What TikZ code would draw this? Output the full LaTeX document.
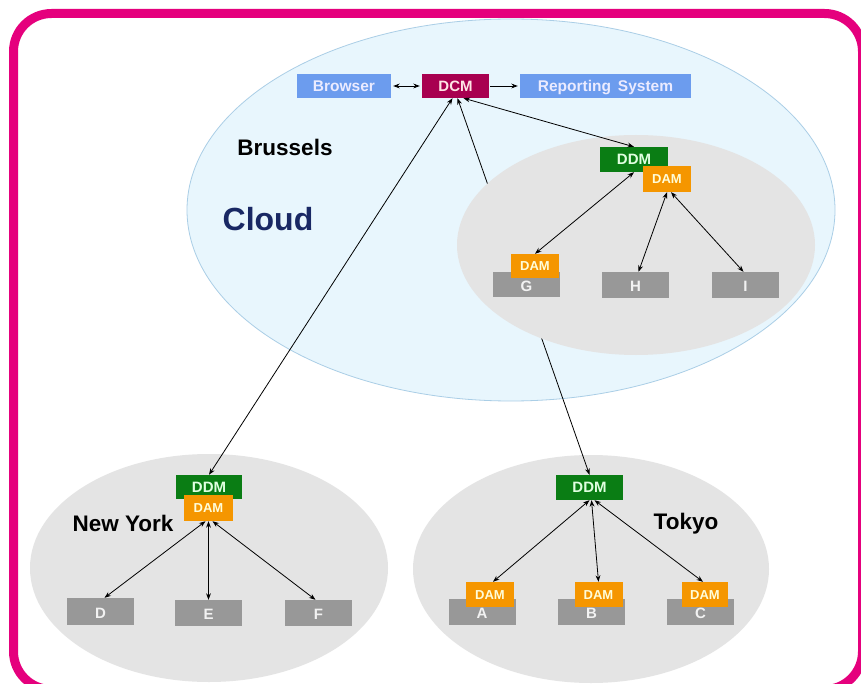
\documentclass[tikz,border=0pt]{standalone}
\usepackage{fontspec}
\setmainfont{Liberation Sans}
\usetikzlibrary{arrows.meta}

\definecolor{framepink}{RGB}{229,0,125}
\definecolor{cloudfill}{RGB}{232,246,253}
\definecolor{cloudedge}{RGB}{170,206,230}
\definecolor{sitegray}{RGB}{228,228,228}
\definecolor{sysblue}{RGB}{108,156,238}
\definecolor{dcmred}{RGB}{168,0,80}
\definecolor{ddmgreen}{RGB}{10,125,20}
\definecolor{damorange}{RGB}{245,150,0}
\definecolor{hostgray}{RGB}{152,152,152}
\definecolor{cloudnavy}{RGB}{25,40,100}

\begin{document}
\begin{tikzpicture}[x=1pt,y=-1pt,
  box/.style={rectangle, inner sep=0pt, text height=10.7pt, text depth=0pt,
    font=\bfseries\fontsize{15}{15}\selectfont},
  sysbox/.style={box, fill=sysblue, text=white!92!blue, minimum height=24pt,
    font=\bfseries\fontsize{15.5}{15.5}\selectfont, text height=11.1pt},
  dcmbox/.style={box, fill=dcmred, text=white!90!red, minimum width=67pt, minimum height=24pt},
  ddmbox/.style={box, fill=ddmgreen, text=white!88!green, minimum width=67pt, minimum height=25pt},
  dambox/.style={box, fill=damorange, text=white!85!yellow, minimum width=48pt, minimum height=25pt,
    font=\bfseries\fontsize{13}{13}\selectfont, text height=9.3pt},
  hostbox/.style={box, fill=hostgray, text=white!95!black, minimum width=67pt, minimum height=26pt,
    text height=13.7pt},
  place/.style={font=\bfseries\fontsize{22.5}{24}\selectfont, text=black,
    text height=16.1pt, text depth=0pt},
  conn/.style={{Stealth[length=6.5pt,width=4.8pt]}-{Stealth[length=6.5pt,width=4.8pt]}, line width=0.8pt},
  oneway/.style={-{Stealth[length=6.5pt,width=4.8pt]}, line width=0.8pt}]
\useasboundingbox (0,0) rectangle (861,684);
\fill[white] (0,0) rectangle (861,684);

% outer rounded frame
\draw[framepink, line width=9pt, rounded corners=38pt] (13.5,13.5) rectangle (862.5,689.5);

% cloud and site areas
\draw[cloudedge, fill=cloudfill, line width=0.8pt] (511,210) ellipse [x radius=324pt, y radius=191pt];
\fill[sitegray] (209,568) ellipse [x radius=179pt, y radius=114pt];
\fill[sitegray] (591,569) ellipse [x radius=178pt, y radius=114pt];

% central manager and its front ends
\node[sysbox, minimum width=94pt] (browser) at (344,86) {Browser};
\node[dcmbox] (dcm) at (455.5,86) {DCM};
\node[sysbox, minimum width=171pt] (report) at (605.5,86) {Reporting\, System};

% Tokyo DDM (link passes behind the Brussels site)
\node[ddmbox] (tkddm) at (589.5,487.5) {DDM};
\draw[conn] ([xshift=2pt]dcm.south) -- (tkddm.north);

% Brussels site
\fill[sitegray] (636,245) ellipse [x radius=179pt, y radius=110pt];
\node[ddmbox, minimum width=68pt] (bruddm) at (634,159.5) {DDM};
\node[dambox, minimum height=26pt] (brudam) at (667,179) {DAM};
\node[hostbox, minimum height=25pt] (g) at (526.5,284.5) {G};
\node[dambox, minimum height=24pt] (gdam) at (535,266) {DAM};
\node[hostbox] (h) at (635.5,285) {H};
\node[hostbox] (i) at (745.5,285) {I};

% New York site
\node[ddmbox, minimum width=66pt, minimum height=24pt] (nyddm) at (209,487) {DDM};
\node[dambox, minimum width=49pt, minimum height=26pt] (nydam) at (208.5,508) {DAM};
\node[hostbox, minimum height=27pt] (d) at (100.5,611.5) {D};
\node[hostbox] (e) at (208.5,613) {E};
\node[hostbox] (f) at (318.5,613) {F};

% Tokyo site
\node[hostbox] (a) at (482,612) {A};
\node[dambox] (adam) at (490,594.5) {DAM};
\node[hostbox] (b) at (591.5,612) {B};
\node[dambox] (bdam) at (598.5,594.5) {DAM};
\node[hostbox] (c) at (700.5,612) {C};
\node[dambox, minimum width=46pt] (cdam) at (705,594.5) {DAM};

% labels
\node[place] (lbru) at (285,147) {Brussels};
\node[font=\bfseries\fontsize{32}{34}\selectfont, text=cloudnavy,
  text height=22.9pt, text depth=0pt] (lcloud) at (268,219) {Cloud};
\node[place] (lny) at (123,523) {New York};
\node[place] (ltk) at (686,521) {Tokyo};

% connectors
\draw[conn, shorten <=2pt, shorten >=2pt] (browser.east) -- (dcm.west);
\draw[oneway, shorten <=1pt, shorten >=2pt] (dcm.east) -- (report.west);
\draw[conn] ([xshift=-3pt]dcm.south) -- (nyddm.north);
\draw[conn] ([xshift=8pt]dcm.south) -- (bruddm.north);

\draw[conn] (bruddm.south) -- (gdam.north);
\draw[conn] (brudam.south) -- ([xshift=3pt]h.north);
\draw[conn] ([xshift=4pt]brudam.south) -- ([xshift=-2pt]i.north);

\draw[conn] ([xshift=-3pt]nydam.south) -- ([xshift=4pt]d.north);
\draw[conn] (nydam.south) -- (e.north);
\draw[conn] ([xshift=4pt]nydam.south) -- ([xshift=-3pt]f.north);

\draw[conn] (tkddm.south) -- ([xshift=3pt]adam.north);
\draw[conn] ([xshift=2pt]tkddm.south) -- (bdam.north);
\draw[conn] ([xshift=5pt]tkddm.south) -- ([xshift=-2pt]cdam.north);
\end{tikzpicture}
\end{document}
